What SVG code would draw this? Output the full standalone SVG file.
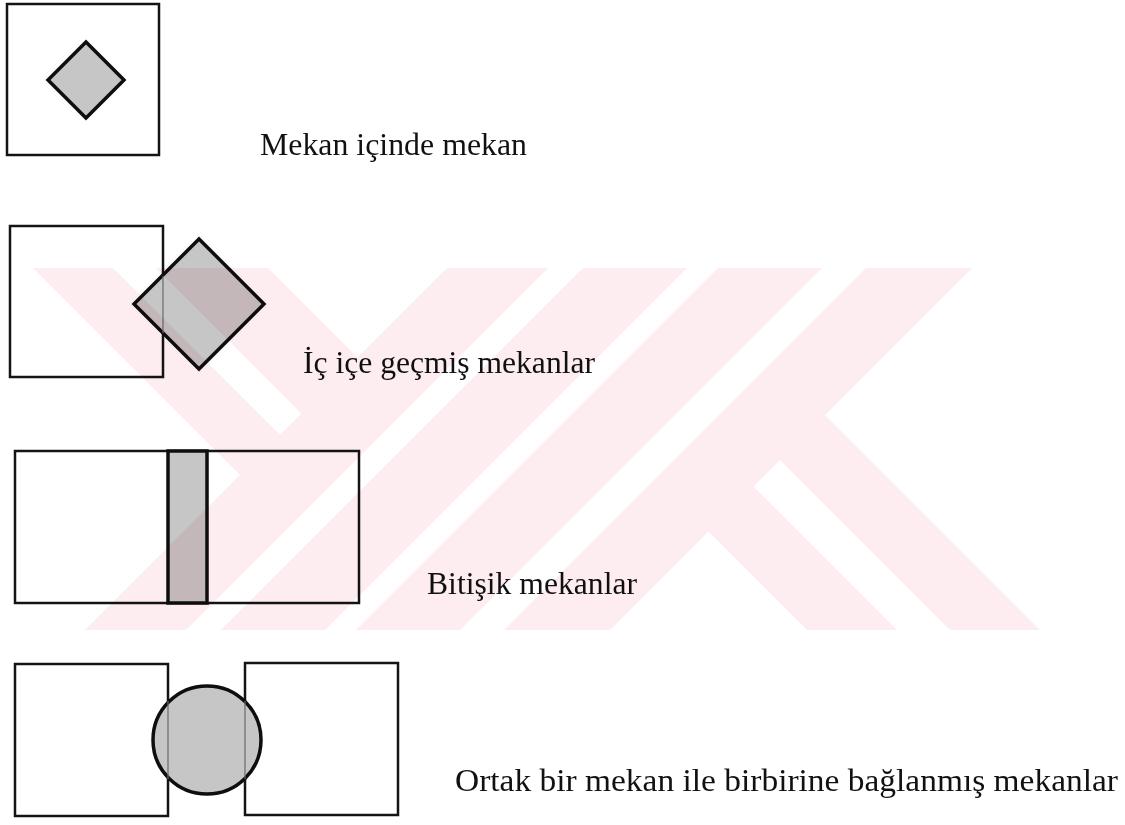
<svg xmlns="http://www.w3.org/2000/svg" width="1125" height="825" viewBox="0 0 1125 825">
  <style>
    .frame { fill: none; stroke: #141414; stroke-width: 2.5; }
    .space { fill: #c6c6c6; stroke: #0e0e0e; stroke-width: 3.5; stroke-linejoin: miter; }
    .edge { stroke: #6a6a6a; stroke-width: 1.2; }
    .label { font-family: "Liberation Serif", "Times New Roman", serif; font-size: 31.5px; fill: #111; }
    .wm { fill: #fdecf0; }
  </style>
  <defs>
    <clipPath id="wmclip">
      <rect x="0" y="268" width="1125" height="362"/>
    </clipPath>
  </defs>
  <rect x="0" y="0" width="1125" height="825" fill="#ffffff"/>

  <g id="node-space-in-space">
    <rect class="frame" x="7" y="4" width="152" height="151"/>
    <polygon class="space" points="86,42 124,80 86,118 48,80"/>
    <text class="label" x="260" y="155" textLength="267" lengthAdjust="spacingAndGlyphs">Mekan içinde mekan</text>
  </g>

  <g id="node-interlocking">
    <rect class="frame" x="10" y="226" width="153" height="151"/>
    <polygon class="space" points="199,239 264,304 199,369 134,304"/>
    <line class="edge" x1="163" y1="276" x2="163" y2="333"/>
    <text class="label" x="303" y="373" textLength="292" lengthAdjust="spacingAndGlyphs">İç içe geçmiş mekanlar</text>
  </g>

  <g id="node-adjacent">
    <rect class="frame" x="15" y="451" width="344" height="152"/>
    <rect class="space" x="168" y="451" width="39" height="152"/>
    <text class="label" x="427" y="594" textLength="210" lengthAdjust="spacingAndGlyphs">Bitişik mekanlar</text>
  </g>

  <g id="node-linked">
    <rect class="frame" x="15" y="664" width="153" height="152"/>
    <rect class="frame" x="245" y="663" width="153" height="152"/>
    <circle class="space" cx="207" cy="740" r="54"/>
    <line class="edge" x1="168" y1="701" x2="168" y2="779"/>
    <line class="edge" x1="245" y1="701" x2="245" y2="779"/>
    <text class="label" x="455" y="791" textLength="663" lengthAdjust="spacingAndGlyphs">Ortak bir mekan ile birbirine bağlanmış mekanlar</text>
  </g>

  <g id="connectors"/>

  <g id="watermark" clip-path="url(#wmclip)" style="mix-blend-mode:multiply">
    <polygon class="wm" points="447,268 548,268 186,630 85,630"/>
    <polygon class="wm" points="583,268 687,268 325,630 221,630"/>
    <polygon class="wm" points="718,268 822,268 460,630 356,630"/>
    <polygon class="wm" points="866,268 972,268 610,630 504,630"/>
    <polygon class="wm" points="33,268 113,268 285,440 245,480"/>
    <polygon class="wm" points="156,268 268,268 362.5,362.5 306.5,418.5"/>
    <polygon class="wm" points="703.5,526.5 748.5,481.5 897,630 807,630"/>
    <polygon class="wm" points="775,455 820,410 1040,630 950,630"/>
  </g>
</svg>
